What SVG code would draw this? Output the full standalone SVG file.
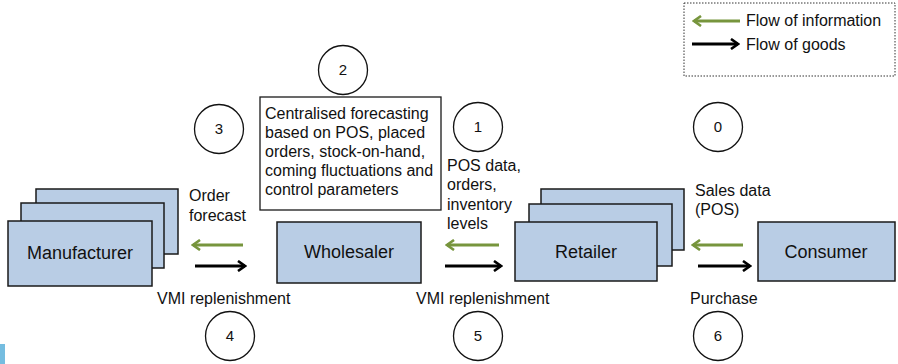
<svg xmlns="http://www.w3.org/2000/svg" width="898" height="364" viewBox="0 0 898 364">
<defs>
<style>
.box{fill:#b9cde5;stroke:#1a1a1a;stroke-width:1.5}
.t{font-family:"Liberation Sans",Arial,sans-serif;font-size:16px;fill:#111}
.nl{font-family:"Liberation Sans",Arial,sans-serif;font-size:18px;fill:#111;text-anchor:middle}
.num{font-family:"Liberation Sans",Arial,sans-serif;font-size:15px;fill:#111;text-anchor:middle}
.circ{fill:#fff;stroke:#111;stroke-width:1.3}
.info{stroke:#77953d;stroke-width:3;fill:none}
.goods{stroke:#000;stroke-width:3;fill:none}
</style>
<marker id="ag" viewBox="0 0 10 12" refX="8" refY="6" markerWidth="10" markerHeight="12" markerUnits="userSpaceOnUse" orient="auto">
<path d="M1,1 L8,6 L1,11" fill="none" stroke="#77953d" stroke-width="2.6"/>
</marker>
<marker id="ab" viewBox="0 0 10 12" refX="8" refY="6" markerWidth="10" markerHeight="12" markerUnits="userSpaceOnUse" orient="auto">
<path d="M1,1 L8,6 L1,11" fill="none" stroke="#000" stroke-width="2.6"/>
</marker>
</defs>
<rect width="898" height="364" fill="#fff"/>
<rect x="0" y="344" width="5" height="20" fill="#75bde0"/>

<g id="legend">
<rect x="684" y="3" width="211" height="73" fill="#fff" stroke="#333" stroke-width="1" stroke-dasharray="1.5,1.5"/>
<line x1="740" y1="21" x2="694" y2="21" class="info" marker-end="url(#ag)"/>
<line x1="692" y1="44" x2="738" y2="44" class="goods" marker-end="url(#ab)"/>
<text x="746" y="26" class="t">Flow of information</text>
<text x="746" y="50" class="t">Flow of goods</text>
</g>

<g id="manufacturer">
<rect x="36" y="189" width="142" height="65" class="box"/>
<rect x="21" y="203" width="143" height="65" class="box"/>
<rect x="8" y="221" width="144" height="65" class="box"/>
<text x="80" y="259" class="nl">Manufacturer</text>
</g>

<g id="wholesaler">
<rect x="277" y="222" width="144" height="61" class="box"/>
<text x="349" y="258" class="nl">Wholesaler</text>
</g>

<g id="retailer">
<rect x="541" y="189" width="143" height="61" class="box"/>
<rect x="529" y="204" width="143" height="62" class="box"/>
<rect x="515" y="222" width="142" height="59" class="box"/>
<text x="586" y="258" class="nl">Retailer</text>
</g>

<g id="consumer">
<rect x="758" y="222" width="137" height="59" class="box"/>
<text x="826" y="258" class="nl">Consumer</text>
</g>

<g id="forecast-box">
<rect x="260" y="97" width="181" height="113" fill="#fff" stroke="#1a1a1a" stroke-width="1.3"/>
<text class="t"><tspan x="265" y="119">Centralised forecasting</tspan><tspan x="265" y="138">based on POS, placed</tspan><tspan x="265" y="157">orders, stock-on-hand,</tspan><tspan x="265" y="176">coming fluctuations and</tspan><tspan x="265" y="195">control parameters</tspan></text>
</g>

<g id="circles">
<g id="c0"><circle cx="718" cy="127" r="24.5" class="circ"/><text x="718" y="132" class="num">0</text></g>
<g id="c1"><circle cx="478" cy="127" r="24.5" class="circ"/><text x="478" y="132" class="num">1</text></g>
<g id="c2"><circle cx="343" cy="70" r="24.5" class="circ"/><text x="343" y="75" class="num">2</text></g>
<g id="c3"><circle cx="219" cy="129" r="24.5" class="circ"/><text x="219" y="134" class="num">3</text></g>
<g id="c4"><circle cx="230" cy="336" r="24.5" class="circ"/><text x="230" y="341" class="num">4</text></g>
<g id="c5"><circle cx="478" cy="336" r="24.5" class="circ"/><text x="478" y="341" class="num">5</text></g>
<g id="c6"><circle cx="718" cy="336" r="24.5" class="circ"/><text x="718" y="341" class="num">6</text></g>
</g>

<g id="labels">
<text class="t"><tspan x="189" y="201">Order</tspan><tspan x="189" y="221">forecast</tspan></text>
<text x="157" y="304" class="t">VMI replenishment</text>
<text class="t"><tspan x="447" y="171">POS data,</tspan><tspan x="447" y="190">orders,</tspan><tspan x="447" y="210">inventory</tspan><tspan x="447" y="229">levels</tspan></text>
<text x="416" y="304" class="t">VMI replenishment</text>
<text class="t"><tspan x="695" y="196">Sales data</tspan><tspan x="695" y="215">(POS)</tspan></text>
<text x="690" y="304" class="t">Purchase</text>
</g>

<g id="connectors">
<line x1="243" y1="245" x2="193" y2="245" class="info" marker-end="url(#ag)"/>
<line x1="195" y1="266" x2="245" y2="266" class="goods" marker-end="url(#ab)"/>
<line x1="499" y1="245" x2="447" y2="245" class="info" marker-end="url(#ag)"/>
<line x1="445" y1="266" x2="501" y2="266" class="goods" marker-end="url(#ab)"/>
<line x1="743" y1="245" x2="693" y2="245" class="info" marker-end="url(#ag)"/>
<line x1="698" y1="266" x2="750" y2="266" class="goods" marker-end="url(#ab)"/>
</g>
</svg>
